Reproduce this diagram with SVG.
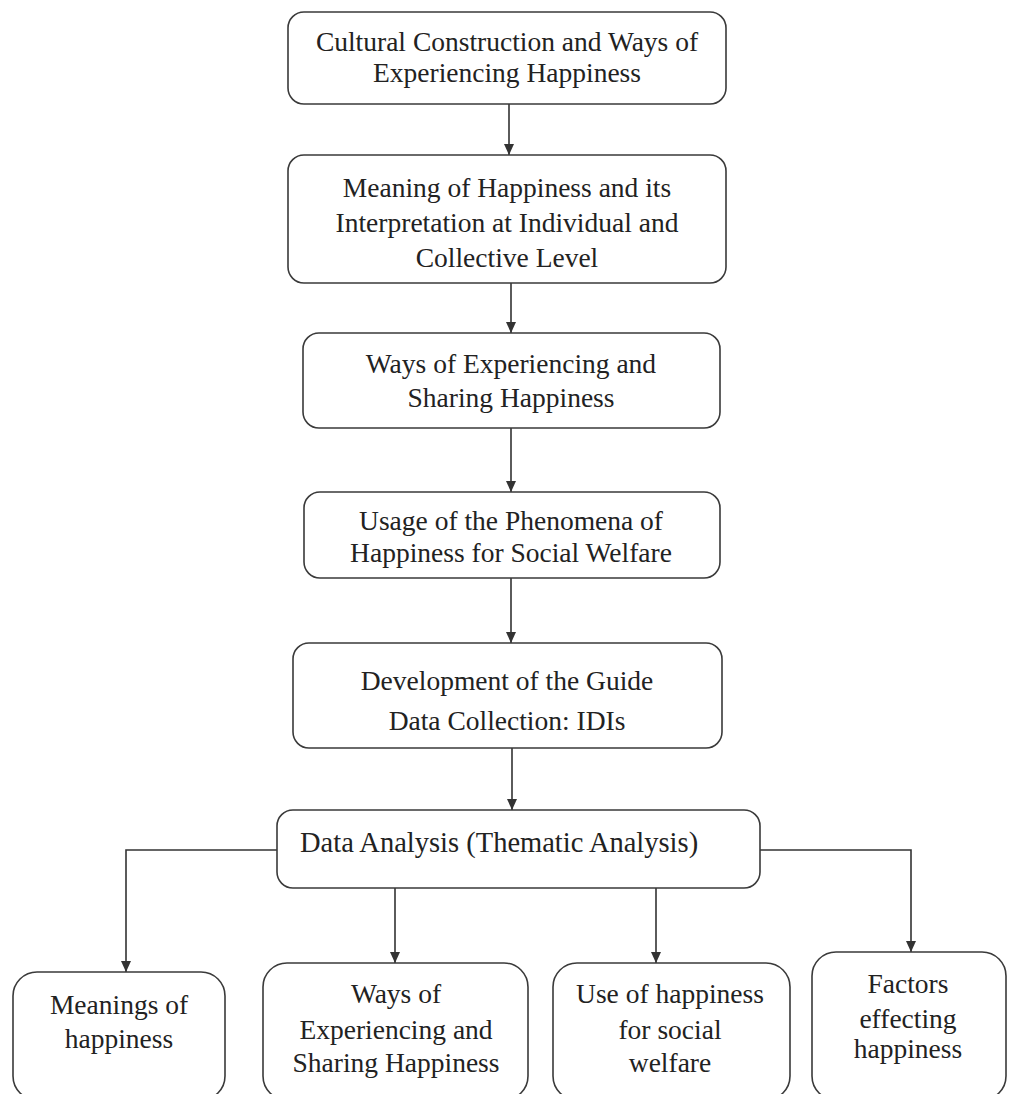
<svg xmlns="http://www.w3.org/2000/svg" width="1010" height="1094" viewBox="0 0 1010 1094">
  <style>
    .box { fill: #ffffff; stroke: #3a3a3a; stroke-width: 1.6; }
    .lbl { font-family: "Liberation Serif", "Times New Roman", serif; font-size: 27.5px; fill: #222222; text-anchor: middle; }
    .lbl-start { text-anchor: start; font-size: 28.5px; }
    .conn { fill: none; stroke: #333333; stroke-width: 1.6; }
  </style>
  <defs>
    <marker id="arrow" markerWidth="12" markerHeight="12" refX="11" refY="5" orient="auto" markerUnits="userSpaceOnUse">
      <path d="M0,0 L11,5 L0,10 Z" fill="#333333"/>
    </marker>
  </defs>
  <rect width="1010" height="1094" fill="#ffffff"/>

  <g id="connectors">
    <line class="conn" x1="509" y1="104" x2="509" y2="155" marker-end="url(#arrow)"/>
    <line class="conn" x1="511" y1="283" x2="511" y2="333" marker-end="url(#arrow)"/>
    <line class="conn" x1="511" y1="428" x2="511" y2="492" marker-end="url(#arrow)"/>
    <line class="conn" x1="511" y1="578" x2="511" y2="643" marker-end="url(#arrow)"/>
    <line class="conn" x1="512" y1="748" x2="512" y2="810" marker-end="url(#arrow)"/>
    <polyline class="conn" points="277,850 126,850 126,972" marker-end="url(#arrow)"/>
    <polyline class="conn" points="760,850 911,850 911,952" marker-end="url(#arrow)"/>
    <line class="conn" x1="395" y1="888" x2="395" y2="963" marker-end="url(#arrow)"/>
    <line class="conn" x1="656" y1="888" x2="656" y2="963" marker-end="url(#arrow)"/>
  </g>

  <g id="node-cultural">
    <rect class="box" x="288" y="12" width="438" height="92" rx="16"/>
    <text class="lbl" x="507" y="51">Cultural Construction and Ways of</text>
    <text class="lbl" x="507" y="82">Experiencing Happiness</text>
  </g>

  <g id="node-meaning">
    <rect class="box" x="288" y="155" width="438" height="128" rx="16"/>
    <text class="lbl" x="507" y="197">Meaning of Happiness and its</text>
    <text class="lbl" x="507" y="232">Interpretation at Individual and</text>
    <text class="lbl" x="507" y="267">Collective Level</text>
  </g>

  <g id="node-ways">
    <rect class="box" x="303" y="333" width="417" height="95" rx="16"/>
    <text class="lbl" x="511" y="373">Ways of Experiencing and</text>
    <text class="lbl" x="511" y="407">Sharing Happiness</text>
  </g>

  <g id="node-usage">
    <rect class="box" x="304" y="492" width="416" height="86" rx="16"/>
    <text class="lbl" x="511" y="530">Usage of the Phenomena of</text>
    <text class="lbl" x="511" y="562">Happiness for Social Welfare</text>
  </g>

  <g id="node-guide">
    <rect class="box" x="293" y="643" width="429" height="105" rx="16"/>
    <text class="lbl" x="507" y="690">Development of the Guide</text>
    <text class="lbl" x="507" y="730">Data Collection: IDIs</text>
  </g>

  <g id="node-analysis">
    <rect class="box" x="277" y="810" width="483" height="78" rx="16"/>
    <text class="lbl lbl-start" x="300" y="852">Data Analysis (Thematic Analysis)</text>
  </g>

  <g id="node-meanings">
    <rect class="box" x="13" y="972" width="212" height="128" rx="24"/>
    <text class="lbl" x="119" y="1014">Meanings of</text>
    <text class="lbl" x="119" y="1048">happiness</text>
  </g>

  <g id="node-experiencing">
    <rect class="box" x="263" y="963" width="265" height="137" rx="24"/>
    <text class="lbl" x="396" y="1003">Ways of</text>
    <text class="lbl" x="396" y="1039">Experiencing and</text>
    <text class="lbl" x="396" y="1072">Sharing Happiness</text>
  </g>

  <g id="node-use">
    <rect class="box" x="553" y="963" width="237" height="137" rx="24"/>
    <text class="lbl" x="670" y="1003">Use of happiness</text>
    <text class="lbl" x="670" y="1039">for social</text>
    <text class="lbl" x="670" y="1072">welfare</text>
  </g>

  <g id="node-factors">
    <rect class="box" x="812" y="952" width="194" height="148" rx="24"/>
    <text class="lbl" x="908" y="993">Factors</text>
    <text class="lbl" x="908" y="1028">effecting</text>
    <text class="lbl" x="908" y="1058">happiness</text>
  </g>
</svg>
